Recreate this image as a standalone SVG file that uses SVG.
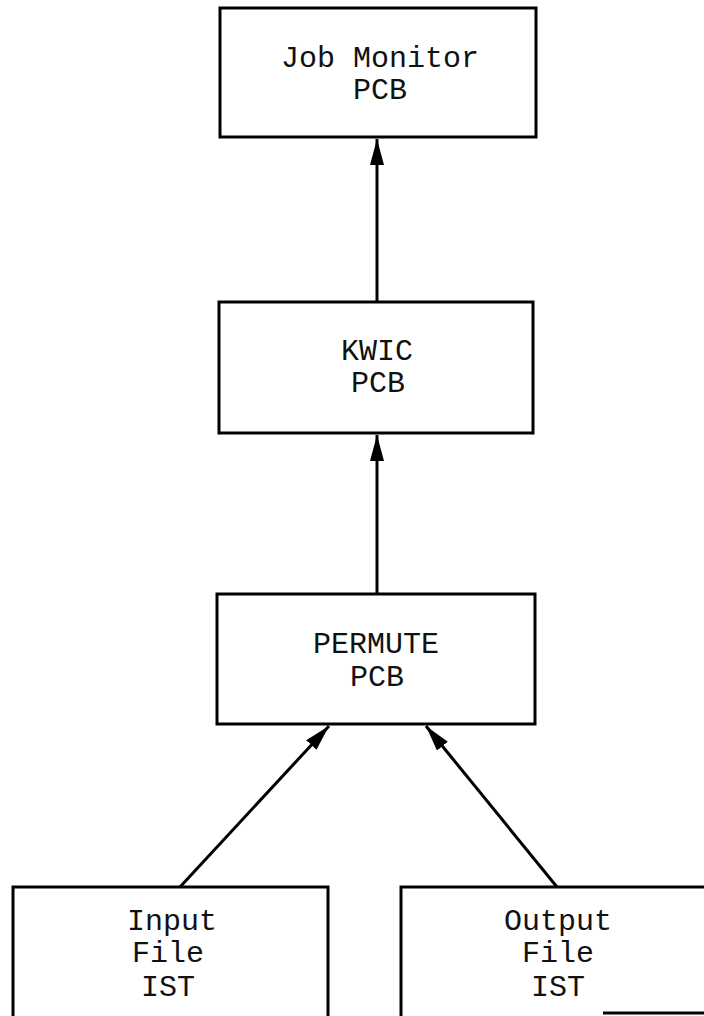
<svg xmlns="http://www.w3.org/2000/svg" width="704" height="1016" viewBox="0 0 704 1016">
<style>
.box{fill:none;stroke:#000;stroke-width:3}
.lbl{font-family:"Liberation Mono","Courier New",monospace;font-size:30px;fill:#111;text-anchor:middle}
.con{stroke:#000;stroke-width:3;fill:none}
</style>
<defs>
<marker id="ah" viewBox="0 0 10 20" refX="10" refY="10" markerWidth="10" markerHeight="20" markerUnits="userSpaceOnUse" orient="auto">
<path d="M0,0 L10,10 L0,20 Z" fill="#000"/>
</marker>
<marker id="ah2" viewBox="0 0 26 14" refX="26" refY="7" markerWidth="26" markerHeight="14" markerUnits="userSpaceOnUse" orient="auto">
<path d="M0,0 L26,7 L0,14 Z" fill="#000"/>
</marker>
</defs>
<rect width="704" height="1016" fill="#fff"/>
<g id="connectors">
<line class="con" x1="377" y1="302" x2="377" y2="139" marker-end="url(#ah2)"/>
<line class="con" x1="377" y1="594" x2="377" y2="435" marker-end="url(#ah2)"/>
<line class="con" x1="180" y1="887" x2="329" y2="726" marker-end="url(#ah2)"/>
<line class="con" x1="557" y1="887" x2="426" y2="726" marker-end="url(#ah2)"/>
</g>
<g id="job-monitor">
<rect class="box" x="220" y="8" width="316" height="129"/>
<text class="lbl" x="380" y="67">Job Monitor</text>
<text class="lbl" x="380" y="99">PCB</text>
</g>
<g id="kwic">
<rect class="box" x="219" y="302" width="314" height="131"/>
<text class="lbl" x="377" y="360">KWIC</text>
<text class="lbl" x="378" y="392">PCB</text>
</g>
<g id="permute">
<rect class="box" x="217" y="594" width="318" height="130"/>
<text class="lbl" x="376" y="653">PERMUTE</text>
<text class="lbl" x="377" y="686">PCB</text>
</g>
<g id="input-file">
<path class="box" d="M13,1018 V887 H328 V1018"/>
<text class="lbl" x="172" y="930">Input</text>
<text class="lbl" x="168" y="962">File</text>
<text class="lbl" x="168" y="996">IST</text>
</g>
<g id="output-file">
<path class="box" d="M401,1018 V887 H706"/>
<line class="box" x1="603" y1="1013" x2="704" y2="1013"/>
<text class="lbl" x="558" y="930">Output</text>
<text class="lbl" x="558" y="962">File</text>
<text class="lbl" x="558" y="996">IST</text>
</g>
</svg>
